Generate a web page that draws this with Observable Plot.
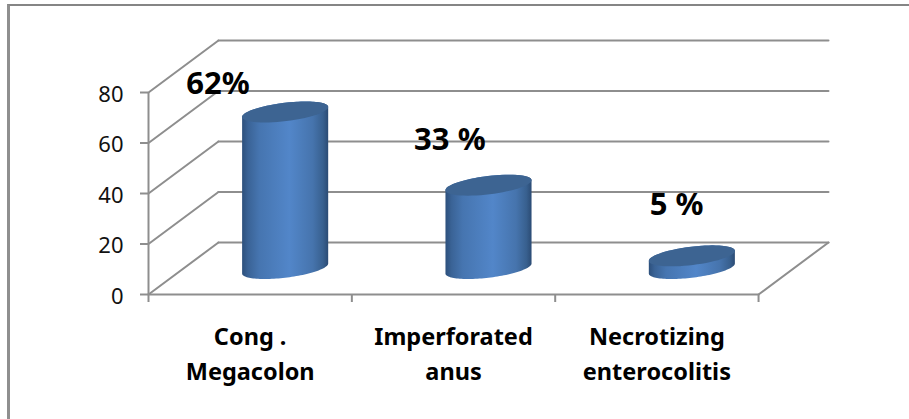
<!DOCTYPE html>
<html>
<head>
<meta charset="utf-8">
<script src="https://cdn.jsdelivr.net/npm/d3@7"></script>
<script src="https://cdn.jsdelivr.net/npm/@observablehq/plot@0.6"></script>
<style>
  html, body { margin: 0; background: #fff; overflow: hidden; }
  #chart { position: relative; width: 909px; height: 419px; }
  #chart svg { position: absolute; left: 0; top: 0; background: none; }
  #border { position: absolute; left: 7px; top: 4px; right: 0; bottom: 0;
            border-left: 3px solid #8f8f8f; border-top: 2px solid #858585; }
</style>
</head>
<body>
<div id="chart"><div id="border"></div></div>
<script>
// Chart data
const categories = ["Cong .\nMegacolon", "Imperforated\nanus", "Necrotizing\nenterocolitis"];
const values = [62, 33, 5];
const valueLabels = ["62%", "33 %", "5 %"];
const yTicks = [0, 20, 40, 60, 80];
const xTicks = [0, 1, 2, 3];

// Oblique projection: one unit of depth shifts a point right (category units) and up (value units)
const depthX = 0.344;
const depthY = 20.6;
const project = (cat, val, depth) => ({x: cat + depth * depthX, y: val + depth * depthY});

// Cylinder cross-section, a sheared ellipse
const radiusX = 0.186;
const shearX = 0.101;
const radiusY = 4.16;
const edgeAngle = Math.atan2(shearX, radiusX);
const ringPoint = (i, val, t) => {
  const c = project(i + 0.5, val, 0.5);
  return {i, x: c.x + radiusX * Math.cos(t) + shearX * Math.sin(t), y: c.y + radiusY * Math.sin(t)};
};
const arc = (i, val, from, to) =>
  d3.range(61).map((k) => ringPoint(i, val, from + (to - from) * k / 60));

const bodies = values.flatMap((v, i) => [
  ...arc(i, 0, edgeAngle + Math.PI, edgeAngle + 2 * Math.PI),
  ...arc(i, v, edgeAngle, edgeAngle + Math.PI)
]);
const tops = values.flatMap((v, i) => arc(i, v, 0, 2 * Math.PI));

// Walls and floor
const wallLines = yTicks.map((v) => [project(0, v, 0), project(0, v, 1)]);
const backLines = yTicks.map((v) => [project(0, v, 1), project(3, v, 1)]);
const floorLines = [
  [project(0, 0, 0), project(3, 0, 0)],
  [project(3, 0, 0), project(3, 0, 1)]
];
const guideLines = [...wallLines, ...backLines, ...floorLines]
  .flatMap((seg, z) => seg.map((p) => ({...p, z})));

// Value labels sit up and to the left of each cylinder top
const labelShiftX = [-0.33, -0.19, -0.075];
const labelShiftY = [11, 18, 20];
const labelRows = values.map((v, i) => {
  const c = project(i + 0.5, v, 0.5);
  return {x: c.x + labelShiftX[i], y: c.y + labelShiftY[i], text: valueLabels[i]};
});

const gradient = () => {
  const defs = d3.create("svg:defs");
  const g = defs.append("linearGradient").attr("id", "cylinder");
  [[0, "#2d507c"], [0.07, "#3a6396"], [0.2, "#4675b0"], [0.55, "#5286c9"],
   [0.82, "#4674ad"], [0.94, "#38608f"], [1, "#2b4b74"]].forEach(([o, c]) =>
    g.append("stop").attr("offset", o).attr("stop-color", c));
  return defs.node();
};

const font = "'Noto Sans', sans-serif";
const lineColor = "#8e8e8e";

const chart = Plot.plot({
  width: 909,
  height: 419,
  marginLeft: 148,
  marginRight: 81,
  marginTop: 40,
  marginBottom: 125,
  style: {fontFamily: font, background: "none"},
  x: {domain: [0, 3 + depthX], label: null},
  y: {domain: [0, 80 + depthY], label: null},
  marks: [
    gradient,
    Plot.line(guideLines, {x: "x", y: "y", z: "z", stroke: lineColor, strokeWidth: 2}),
    Plot.ruleX([0], {y1: 0, y2: 80, stroke: lineColor, strokeWidth: 2}),
    Plot.axisY({
      anchor: "left", ticks: yTicks, tickSize: 8, label: null,
      stroke: lineColor, strokeWidth: 2, tickFormat: () => ""
    }),
    Plot.text(yTicks, {
      x: () => 0, y: (d) => d, text: String, dx: -25, dy: 2, textAnchor: "end",
      fontSize: 22, fill: "#111"
    }),
    Plot.axisX({
      anchor: "bottom", ticks: xTicks, tickSize: 8, label: null,
      stroke: lineColor, strokeWidth: 2, tickFormat: () => ""
    }),
    Plot.line(bodies, {x: "x", y: "y", z: "i", fill: "url(#cylinder)", stroke: "none"}),
    Plot.line(tops, {x: "x", y: "y", z: "i", fill: "#3d6492", stroke: "none"}),
    Plot.text(labelRows, {
      x: "x", y: "y", text: "text", fontSize: 31, fontWeight: 700, fill: "#000"
    }),
    Plot.text(categories, {
      x: (d, i) => i + 0.5, y: () => 0, text: (d) => d, dy: 26, lineAnchor: "top",
      lineHeight: 1.49, fontSize: 23.5, fontWeight: 700, fill: "#000", textAnchor: "middle"
    })
  ]
});
document.getElementById("chart").appendChild(chart);
</script>
</body>
</html>
